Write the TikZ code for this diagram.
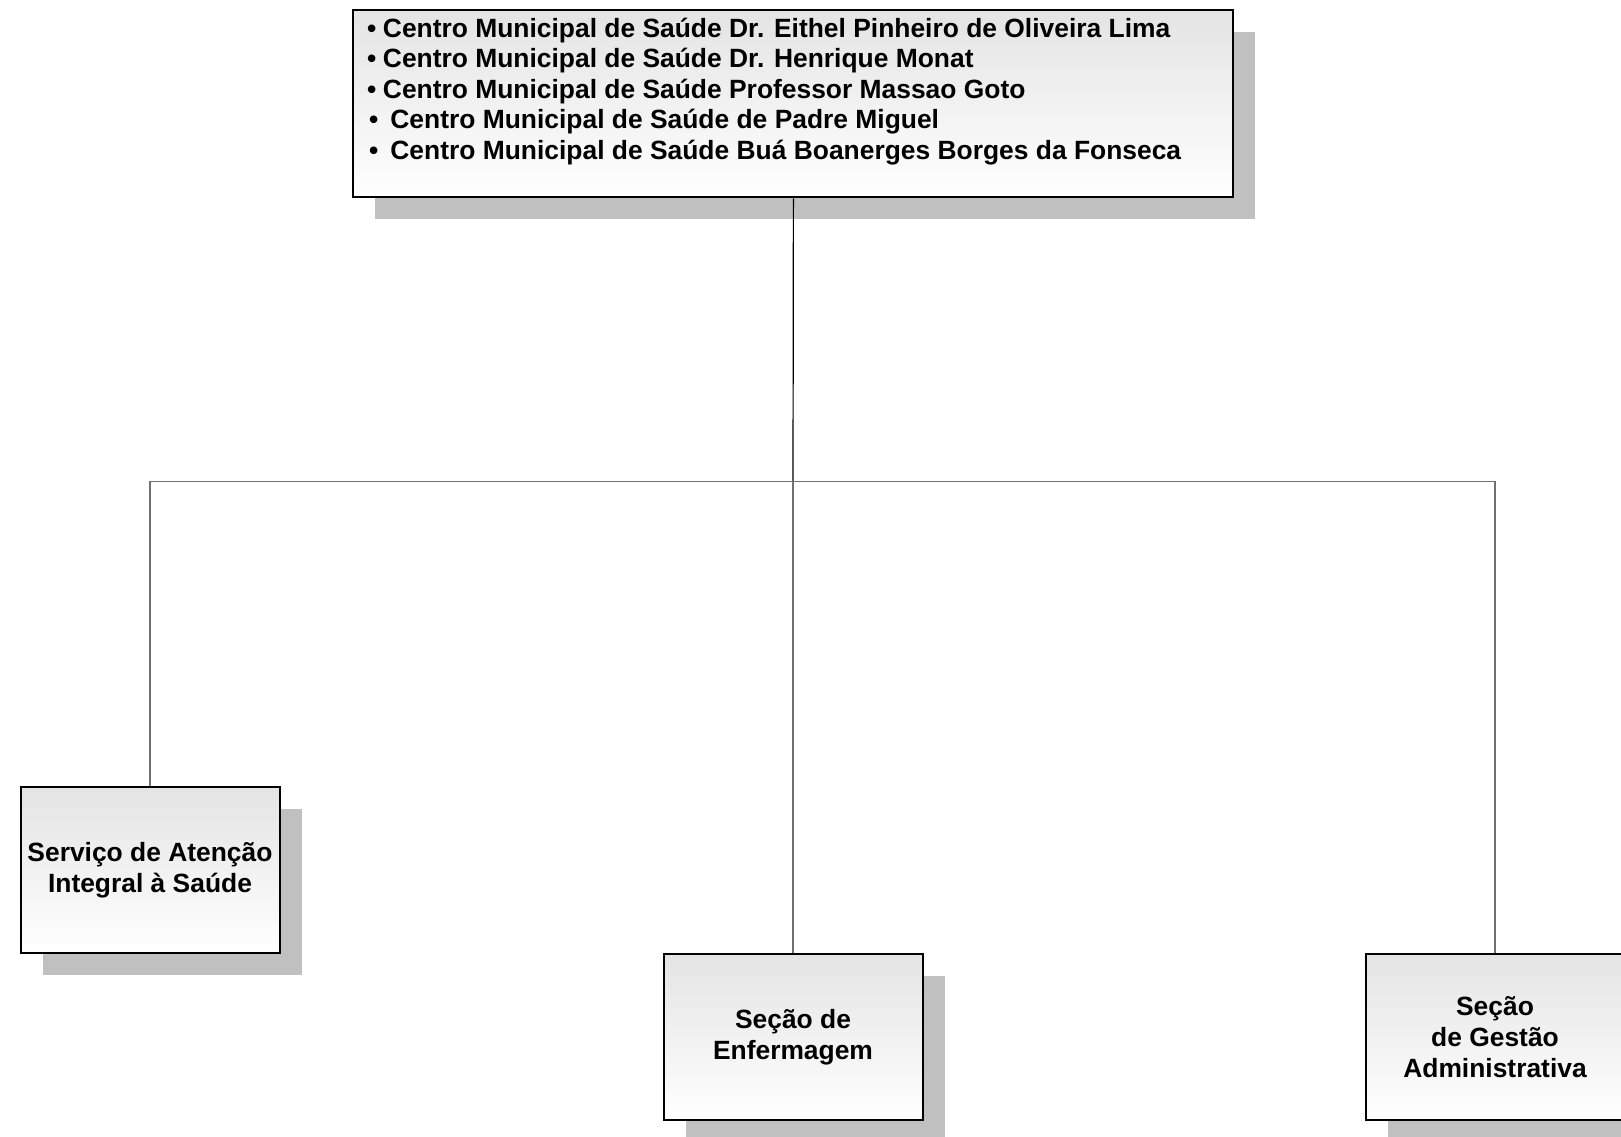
\documentclass[tikz,border=0pt]{standalone}
\usepackage{fontspec}
\setmainfont{Liberation Sans}
\usetikzlibrary{shadows}
\definecolor{shadowgray}{HTML}{C0C0C0}
\definecolor{boxtop}{HTML}{E4E4E4}
\definecolor{linegray}{HTML}{707070}
\tikzset{
  orgbox/.style={draw=black, line width=2pt, top color=boxtop, bottom color=white,
    general shadow={fill=shadowgray, shadow xshift=22pt, shadow yshift=-22pt},
    minimum width=259pt, minimum height=166pt, inner sep=0pt, align=center,
    font=\fontsize{26.4pt}{31pt}\selectfont\bfseries},
  toplist/.style={inner sep=0pt, align=left, anchor=north west,
    font=\fontsize{26.4pt}{30.5pt}\selectfont\bfseries},
  conn/.style={draw=linegray, line width=1.2pt},
  connblack/.style={draw=black, line width=1.2pt}
}
\begin{document}
\begin{tikzpicture}[x=1pt,y=-1pt]
\useasboundingbox (0,0) rectangle (1621,1136);
\node[orgbox, minimum width=880pt, minimum height=187pt] (top) at (793.4,103.9) {};
\node[toplist] (toptext) at (367,17.5) {%
\textbullet\hspace{6.5pt}Centro Municipal de Saúde Dr. Eithel Pinheiro de Oliveira Lima\\
\textbullet\hspace{6.5pt}Centro Municipal de Saúde Dr. Henrique Monat\\
\textbullet\hspace{6.5pt}Centro Municipal de Saúde Professor Massao Goto\\
\hspace{2pt}\textbullet\hspace{12pt}Centro Municipal de Saúde de Padre Miguel\\
\hspace{2pt}\textbullet\hspace{12pt}Centro Municipal de Saúde Buá Boanerges Borges da Fonseca};
\node[orgbox] (left) at (150,870.4) {Serviço de Atenção\\Integral à Saúde};
\node[orgbox] (mid) at (793,1036.8) {Seção de\\Enfermagem};
\node[orgbox] (right) at (1495,1036.8) {Seção\\de Gestão\\Administrativa};
\coordinate (j) at (793,481.7);
\draw[connblack] (top.south) -- (j);
\draw[conn] (left.north) |- (j) -| (right.north);
\draw[conn] (j) -- (mid.north);
\end{tikzpicture}
\end{document}
